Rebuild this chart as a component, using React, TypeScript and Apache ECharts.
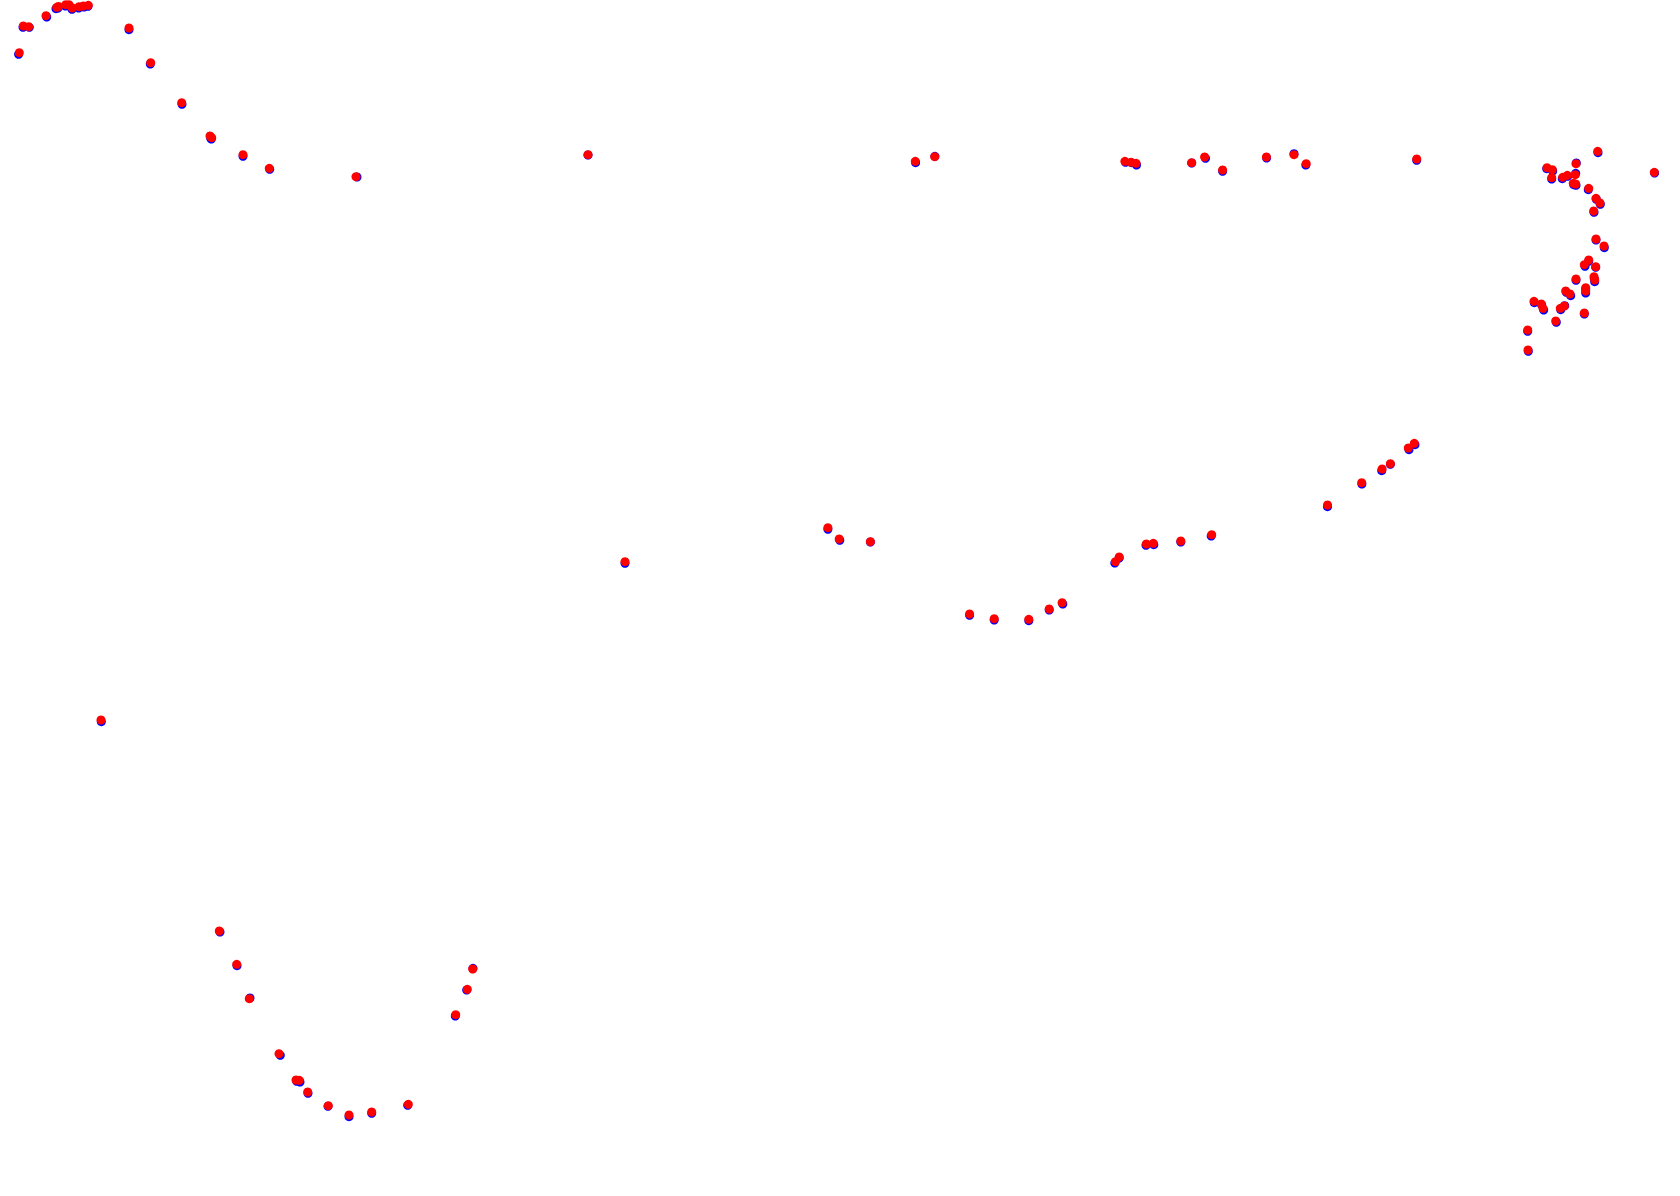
import React, { useEffect, useRef } from "react";
import * as echarts from "echarts";

// Red track points (screen-space coordinates)
const redTopLeft: number[][] = [
  [19.3, 52.7], [23.3, 26], [28.7, 26.7], [46, 15.7], [56.7, 7.3], [58.5, 6.5], [65.7, 4.7], [69, 4.7],
  [72.3, 8], [79, 6.7], [83.3, 6], [88.3, 5.3], [129, 28], [150.7, 62.7], [181.7, 102.7], [210, 136],
  [211.7, 137.7], [243, 154.7], [269.3, 168.3], [356, 176.7], [588, 154.7],
];
const redIsolated: number[][] = [[625, 561.7], [101, 720]];
const redBottom: number[][] = [
  [219.3, 931], [236.7, 964.3], [249.3, 998.7], [279, 1053.7], [296, 1080], [299.3, 1080.3], [307.7, 1092],
  [328.3, 1105.7], [349, 1115], [371.7, 1112], [408.3, 1104.3], [455.7, 1014.7], [467.3, 989.3], [472.7, 969],
];
const redMiddle: number[][] = [
  [827.9, 527.7], [839.2, 539], [870.4, 541.7], [969.6, 614], [994.2, 618.7], [1028.8, 619.3], [1049.2, 609],
  [1062.1, 602.7], [1115.4, 561.7], [1119.2, 557], [1146.3, 544], [1153.3, 543.3], [1180.8, 541], [1211.7, 534.7],
  [1327.5, 505], [1361.7, 482.7], [1382.1, 469], [1390.4, 463.7], [1408.3, 448], [1414.3, 443.3],
];
const redTopRow: number[][] = [
  [915.3, 161.3], [934.7, 156.7], [1124.9, 161.3], [1131, 162.3], [1136.1, 163.3], [1191.7, 162.7], [1204.6, 157],
  [1222.6, 170], [1266.4, 157], [1294, 154.7], [1306.2, 163.7], [1416.7, 159], [1654.3, 172.3],
];
const redRight: number[][] = [
  [1597.7, 151.3], [1547, 167.7], [1552.3, 169.7], [1551.7, 177.7], [1576, 163.7], [1562.7, 177.3], [1567.3, 175.3],
  [1575.3, 174.7], [1573.3, 183.3], [1575.7, 184], [1588.7, 188.3], [1596, 198.3], [1600, 203], [1593.7, 211],
  [1596, 239], [1604, 246], [1588.7, 260], [1584.3, 264.7], [1595.7, 266.7], [1576, 279], [1594, 276.7],
  [1594.7, 280], [1585.7, 287.7], [1585.7, 291], [1565.7, 291], [1570, 294], [1534, 301.3], [1541.3, 304],
  [1543, 308.3], [1560.3, 308.3], [1564.3, 306], [1584.3, 313], [1555.7, 321], [1527.7, 330], [1528, 350],
];

// Blue track points
const blueTopLeft: number[][] = [
  [18.6, 54.3], [23, 27.3], [29.3, 27.3], [46.7, 17], [56, 8.7], [58, 8], [65.3, 6], [69.7, 6.3],
  [72, 9.3], [78.7, 8], [84, 7], [88, 6.3], [129, 29.7], [150.3, 64], [182, 104.3], [210.7, 138],
  [211.3, 139], [243, 156.3], [269.7, 169.3], [357, 177], [588, 155],
];
const blueIsolated: number[][] = [[625, 563.3], [101.3, 721.7]];
const blueBottom: number[][] = [
  [220, 932], [237, 965.7], [250, 998], [280.3, 1055.3], [296.7, 1081.3], [300, 1082], [308, 1093.3],
  [328, 1106.3], [349, 1116.7], [371.7, 1113.3], [407.7, 1105.3], [455.3, 1016], [466.7, 990], [473, 968.3],
];
const blueMiddle: number[][] = [
  [827.9, 529.3], [839.8, 540.3], [870.4, 542], [969.6, 615.3], [994.2, 620], [1028.8, 620.7], [1049.2, 610],
  [1062.8, 604], [1114.8, 563], [1119.2, 558], [1146, 545.3], [1153.8, 544.7], [1180.8, 542], [1211.2, 536],
  [1327.5, 506.7], [1361.9, 484], [1381.7, 470.7], [1390.4, 464.3], [1409, 449.7], [1415, 444.7],
];
const blueTopRow: number[][] = [
  [915.6, 162.7], [934.9, 156.3], [1125.5, 162.3], [1131.5, 162.7], [1136.5, 165], [1191.7, 163], [1205.5, 158.3],
  [1222.6, 171.3], [1266.6, 158], [1294, 153.7], [1305.8, 165], [1416.7, 160.3], [1654.6, 173],
];
const blueRight: number[][] = [
  [1598, 152.7], [1546.7, 168.7], [1552.7, 171], [1551.7, 179], [1576.3, 163], [1562.3, 178.7], [1567.7, 176.3],
  [1575.7, 173.3], [1573.7, 184.7], [1576, 185.3], [1588.3, 189.7], [1596.3, 199.3], [1600.3, 204.3], [1594, 212.3],
  [1596, 240], [1604.3, 247.7], [1588.7, 261.3], [1585, 266.3], [1595.7, 267.3], [1576, 280.3], [1594.3, 278.7],
  [1594.7, 281.7], [1585.7, 289], [1585.7, 293], [1566.3, 292.3], [1570.7, 295.7], [1534.3, 302.7], [1541.7, 305],
  [1543.7, 310], [1560.7, 309.7], [1564.7, 305.7], [1584.3, 314], [1556.3, 322.3], [1527.7, 331.3], [1528.3, 351.3],
];

const WIDTH = 1680;
const HEIGHT = 1196;

export default function App() {
  const ref = useRef<HTMLDivElement>(null);
  useEffect(() => {
    document.body.style.margin = "0";
    if (!ref.current) return;
    const chart = echarts.init(ref.current, null, { renderer: "svg" });
    const blue = [...blueTopLeft, ...blueIsolated, ...blueBottom, ...blueMiddle, ...blueTopRow, ...blueRight];
    const red = [...redTopLeft, ...redIsolated, ...redBottom, ...redMiddle, ...redTopRow, ...redRight];
    chart.setOption({
      animation: false,
      backgroundColor: "#ffffff",
      grid: { left: 0, top: 0, right: 0, bottom: 0, containLabel: false },
      xAxis: { type: "value", min: 0, max: WIDTH, show: false },
      yAxis: { type: "value", min: 0, max: HEIGHT, inverse: true, show: false },
      series: [
        {
          name: "blue",
          type: "scatter",
          data: blue,
          symbol: "circle",
          symbolSize: 9,
          itemStyle: { color: "#0000ff", opacity: 1 },
          silent: true,
        },
        {
          name: "red",
          type: "scatter",
          data: red,
          symbol: "circle",
          symbolSize: 9,
          itemStyle: { color: "#ff0000", opacity: 1 },
          silent: true,
        },
      ],
    });
    return () => chart.dispose();
  }, []);
  return (
    <div
      ref={ref}
      style={{ position: "absolute", left: 0, top: 0, width: WIDTH, height: HEIGHT }}
    />
  );
}
